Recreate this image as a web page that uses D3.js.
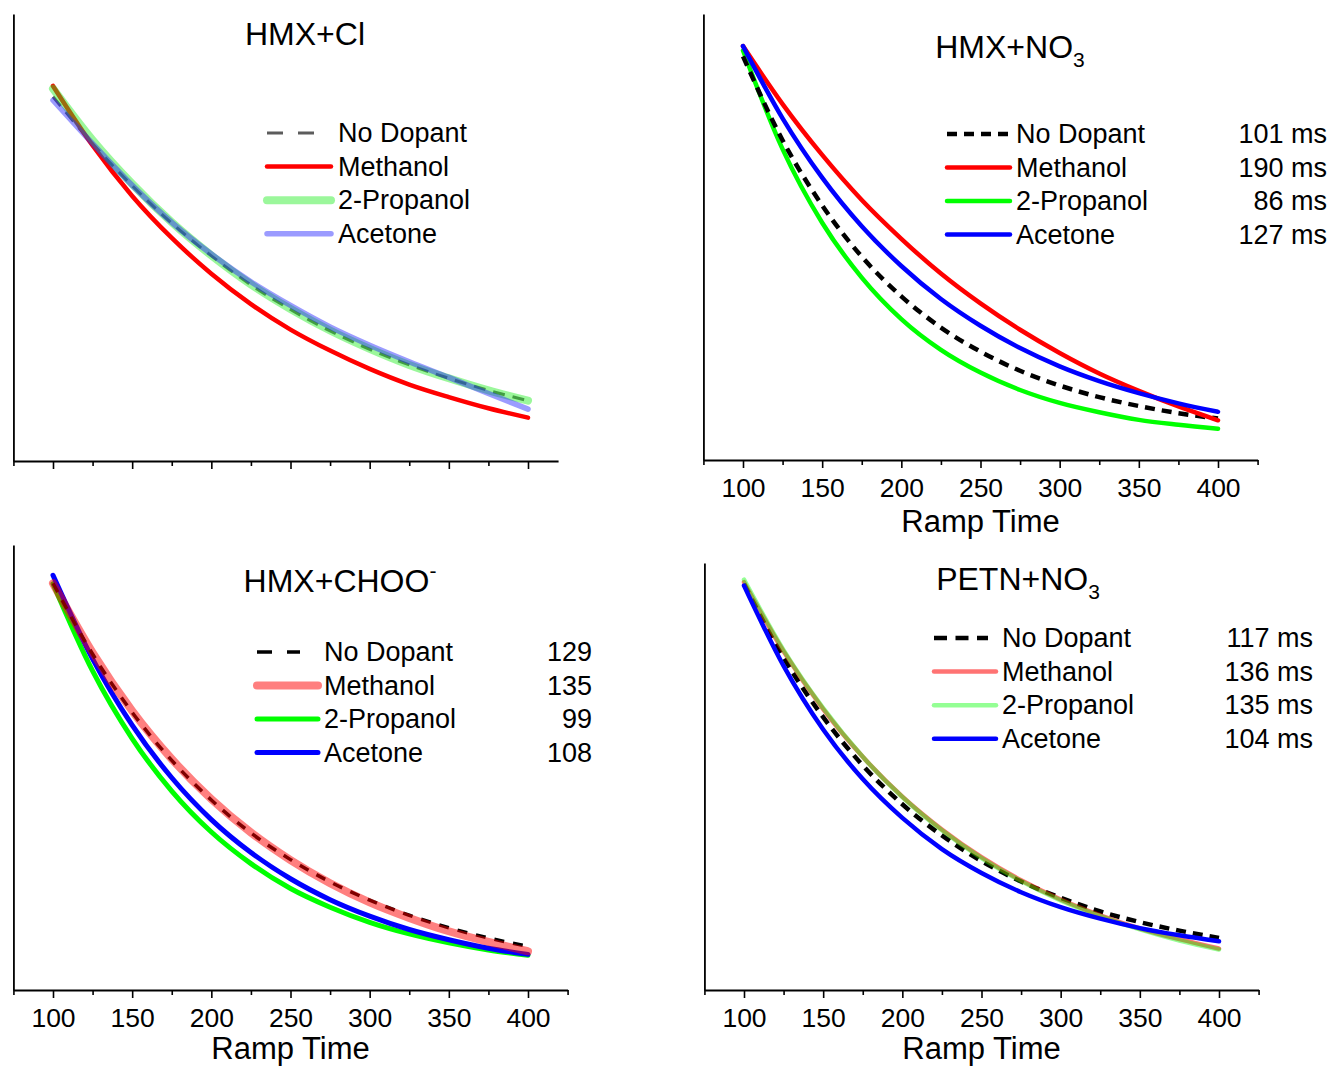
<!DOCTYPE html>
<html>
<head>
<meta charset="utf-8">
<script src="https://cdn.jsdelivr.net/npm/d3@7"></script>
<style>
  body { margin: 0; background: #fff; }
  text { font-family: "Liberation Sans", Arial, sans-serif; fill: #000; }
</style>
</head>
<body>
<div id="chart"></div>
<script>
// ramp time (ms) sampled along each fitted decay curve
var rampTime = [100, 125, 150, 175, 200, 225, 250, 275, 300, 325, 350, 375, 400];
var majorTicks = [100, 150, 200, 250, 300, 350, 400];
var seriesNames = ["No Dopant", "Methanol", "2-Propanol", "Acetone"];

// relative signal, 0 = x axis, 100 = top of the y axis
var clNoDopant = [81.5, 71.0, 61.6, 53.2, 45.9, 39.4, 33.9, 29.1, 25.0, 21.5, 18.5, 15.8, 13.5];
var clMethanol = [83.9, 70.6, 59.3, 49.9, 41.9, 35.1, 29.4, 24.7, 20.6, 17.1, 14.3, 11.8, 9.7];
var clPropanol = [83.3, 71.8, 62.0, 53.4, 46.0, 39.5, 34.0, 29.2, 25.1, 21.5, 18.5, 15.8, 13.5];
var clAcetone  = [80.7, 71.0, 61.7, 53.4, 46.3, 40.1, 34.8, 30.0, 25.9, 22.2, 18.7, 15.1, 11.6];

var no3NoDopant = [90.5, 71.7, 57.1, 45.6, 36.7, 29.7, 24.3, 20.0, 16.7, 14.1, 12.1, 10.5, 9.3];
var no3Methanol = [92.8, 79.8, 68.4, 58.3, 49.6, 41.8, 35.1, 29.2, 24.0, 19.4, 15.5, 12.0, 8.9];
var no3Propanol = [91.8, 69.7, 53.2, 40.9, 31.6, 24.7, 19.6, 15.7, 12.8, 10.7, 9.0, 7.9, 7.0];
var no3Acetone  = [92.8, 76.6, 63.3, 52.4, 43.5, 36.1, 30.1, 25.1, 21.0, 17.7, 15.0, 12.7, 10.8];
var no3Labels = ["101 ms", "190 ms", "86 ms", "127 ms"];

var chooNoDopant = [91.4, 75.5, 62.4, 51.6, 42.7, 35.3, 29.3, 24.3, 20.2, 16.8, 14.0, 11.7, 9.8];
var chooMethanol = [91.4, 75.8, 62.7, 51.9, 42.9, 35.4, 29.2, 24.0, 19.7, 16.2, 13.2, 10.8, 8.7];
var chooPropanol = [91.3, 71.7, 56.5, 44.7, 35.5, 28.4, 22.8, 18.6, 15.2, 12.6, 10.6, 9.0, 7.8];
var chooAcetone  = [93.2, 74.4, 59.5, 47.7, 38.3, 30.9, 25.0, 20.3, 16.6, 13.6, 11.3, 9.4, 8.0];
var chooLabels = ["129", "135", "99", "108"];

var petnNoDopant = [95.1, 77.8, 63.9, 52.6, 43.5, 36.2, 30.2, 25.4, 21.6, 18.4, 15.9, 13.9, 12.2];
var petnMethanol = [95.5, 79.3, 65.8, 54.6, 45.3, 37.6, 31.1, 25.7, 21.2, 17.5, 14.4, 11.9, 9.7];
var petnPropanol = [96.1, 79.6, 66.0, 54.6, 45.2, 37.4, 30.9, 25.5, 21.0, 17.3, 14.2, 11.6, 9.5];
var petnAcetone  = [94.7, 75.9, 61.0, 49.4, 40.3, 33.0, 27.4, 22.9, 19.4, 16.7, 14.5, 12.8, 11.4];
var petnLabels = ["117 ms", "136 ms", "135 ms", "104 ms"];

var svg = d3.select("#chart").append("svg")
    .attr("width", 1329)
    .attr("height", 1068);

// panel layout (pixel positions of 100 and 400 on the x axis, y axis extent)
var panels = [
  { title: ["HMX+Cl", "", ""], tx: 305, ty: 45,
    x100: 53, x400: 528, xMax: 419, yTop: 14, yBot: 461, tickLabels: false,
    series: [clNoDopant, clMethanol, clPropanol, clAcetone], order: [0, 1, 2, 3],
    styles: [
      { color: "#5c5c5c", w: 3, dash: "12,8", legDash: "16,15", op: 1 },
      { color: "#ff0000", w: 4.5, op: 1 },
      { color: "#22ee22", w: 8, op: 0.45 },
      { color: "#2222ff", w: 5.5, op: 0.45 }],
    legend: { y0: 133, dy: 33.6, lx1: 267, lx2: 331, dashEnd: 314, tx: 338 }, values: null },
  { title: ["HMX+NO", "3", "sub"], tx: 1010, ty: 58,
    x100: 743, x400: 1218, xMax: 425, yTop: 14, yBot: 460, tickLabels: true, labelDy: 72,
    series: [no3NoDopant, no3Methanol, no3Propanol, no3Acetone], order: [2, 0, 1, 3],
    styles: [
      { color: "#000", w: 4.5, dash: "10,7", legDash: "10,7", op: 1 },
      { color: "#ff0000", w: 4.5, op: 1 },
      { color: "#00ff00", w: 4.5, op: 1 },
      { color: "#0000ff", w: 4.5, op: 1 }],
    legend: { y0: 134, dy: 33.5, lx1: 947, lx2: 1010, dashEnd: 1008, tx: 1016 }, values: no3Labels, vx: 1327 },
  { title: ["HMX+CHOO", "-", "sup"], tx: 340, ty: 592,
    x100: 53, x400: 528, xMax: 425, yTop: 545, yBot: 990, tickLabels: true, labelDy: 69,
    series: [chooNoDopant, chooMethanol, chooPropanol, chooAcetone], order: [2, 3, 0, 1],
    styles: [
      { color: "#000", w: 3.5, dash: "10,9", legDash: "15,15", op: 1 },
      { color: "#ff0000", w: 8, op: 0.5 },
      { color: "#00ff00", w: 5, op: 1 },
      { color: "#0000ff", w: 5, op: 1 }],
    legend: { y0: 652, dy: 33.5, lx1: 257, lx2: 318, dashEnd: 300, tx: 324 }, values: chooLabels, vx: 592 },
  { title: ["PETN+NO", "3", "sub"], tx: 1018, ty: 590,
    x100: 744, x400: 1219, xMax: 425, yTop: 563, yBot: 990, tickLabels: true, labelDy: 69,
    series: [petnNoDopant, petnMethanol, petnPropanol, petnAcetone], order: [0, 1, 2, 3],
    styles: [
      { color: "#000", w: 4.5, dash: "10,7", legDash: "13,8.5", op: 1 },
      { color: "#ff0000", w: 4.5, op: 0.55 },
      { color: "#00ff00", w: 4.5, op: 0.42 },
      { color: "#0000ff", w: 4.5, op: 1 }],
    legend: { y0: 638, dy: 33.6, lx1: 934, lx2: 996, dashEnd: 988, tx: 1002 }, values: petnLabels, vx: 1313 }
];

panels.forEach(function(p) {
  var k = (p.x400 - p.x100) / 300;
  var x = d3.scaleLinear()
    .domain([75, p.xMax])
    .range([p.x100 - 25 * k, p.x100 + (p.xMax - 100) * k]);
  var y = d3.scaleLinear()
    .domain([0, 100])
    .range([p.yBot, p.yTop]);

  var g = svg.append("g");

  // minor ticks
  var minor = d3.range(75, p.xMax + 1, 50);
  g.append("g")
    .attr("transform", "translate(0," + p.yBot + ")")
    .call(d3.axisBottom(x).tickValues(minor).tickSize(5).tickSizeOuter(0).tickFormat(""))
    .call(function(a) { a.selectAll("line").attr("stroke-width", 1.6); a.select(".domain").remove(); });

  // major ticks + axis line
  var xa = g.append("g")
    .attr("transform", "translate(0," + p.yBot + ")")
    .call(d3.axisBottom(x).tickValues(majorTicks).tickSize(8).tickSizeOuter(0).tickPadding(10)
      .tickFormat(p.tickLabels ? d3.format("d") : ""));
  xa.select(".domain").attr("stroke-width", 1.8);
  xa.selectAll("line").attr("stroke-width", 1.6);
  xa.selectAll("text")
    .style("font-family", '"Liberation Sans", Arial, sans-serif')
    .style("font-size", "26.5px");

  // y axis, no ticks
  var ya = g.append("g")
    .attr("transform", "translate(" + x(75) + ",0)")
    .call(d3.axisLeft(y).tickValues([]).tickSizeOuter(0));
  ya.select(".domain").attr("stroke-width", 1.8);

  if (p.tickLabels) {
    g.append("text")
      .attr("x", (x(75) + x(425)) / 2)
      .attr("y", p.yBot + p.labelDy)
      .attr("text-anchor", "middle")
      .style("font-size", "31px")
      .text("Ramp Time");
  }

  // title
  var t = g.append("text")
    .attr("x", p.tx)
    .attr("y", p.ty)
    .attr("text-anchor", "middle")
    .style("font-size", "32px")
    .text(p.title[0]);
  if (p.title[2] == "sub") {
    t.append("tspan").attr("dy", 9).style("font-size", "21px").text(p.title[1]);
  } else if (p.title[2] == "sup") {
    t.append("tspan").attr("dy", -14).style("font-size", "21px").text(p.title[1]);
  }

  // curves
  var line = d3.line()
    .x(function(d, i) { return x(rampTime[i]); })
    .y(function(d) { return y(d); })
    .curve(d3.curveMonotoneX);

  p.order.forEach(function(si) {
    var s = p.styles[si];
    g.append("path")
      .datum(p.series[si])
      .attr("d", line)
      .attr("fill", "none")
      .attr("stroke", s.color)
      .attr("stroke-width", s.w)
      .attr("stroke-opacity", s.op)
      .attr("stroke-linecap", s.dash ? "butt" : "round")
      .attr("stroke-dasharray", s.dash || null);
  });

  // legend
  seriesNames.forEach(function(name, i) {
    var s = p.styles[i];
    var ly = p.legend.y0 + i * p.legend.dy;
    g.append("line")
      .attr("x1", p.legend.lx1).attr("x2", s.dash ? p.legend.dashEnd : p.legend.lx2)
      .attr("y1", ly).attr("y2", ly)
      .attr("stroke", s.color)
      .attr("stroke-width", s.w)
      .attr("stroke-opacity", s.op)
      .attr("stroke-linecap", s.dash ? "butt" : "round")
      .attr("stroke-dasharray", s.legDash || null);
    g.append("text")
      .attr("x", p.legend.tx)
      .attr("y", ly + 9)
      .style("font-size", "27px")
      .text(name);
    if (p.values) {
      g.append("text")
        .attr("x", p.vx)
        .attr("y", ly + 9)
        .attr("text-anchor", "end")
        .style("font-size", "27px")
        .text(p.values[i]);
    }
  });
});
</script>
</body>
</html>
